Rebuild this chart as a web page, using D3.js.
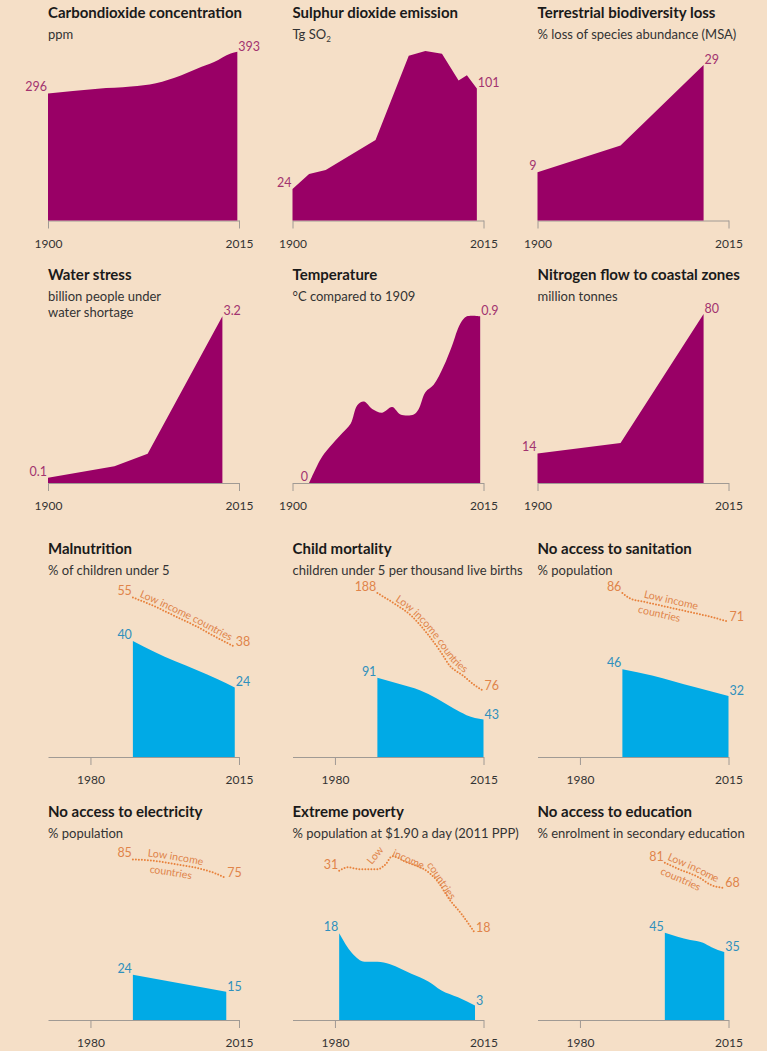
<!DOCTYPE html>
<html>
<head>
<meta charset="utf-8">
<script src="https://cdn.jsdelivr.net/npm/d3@7"></script>
<style>
  body { margin: 0; background: #f5dfc7; }
  svg { display: block; font-family: Lato, 'Open Sans', sans-serif; }
  .title { font-size: 15px; font-weight: bold; fill: #1a1a1a; }
  .sub { font-size: 13px; fill: #333; }
  .tick text { font-size: 12px; fill: #333; font-family: Lato, sans-serif; }
  .val { font-size: 12.5px; }
  .ann { font-size: 10.5px; fill: #e0844a; }
</style>
</head>
<body>
<div id="chart"></div>
<script>
// Planet (purple) series, 1900-2015
const co2Years = [1900, 1930, 1950, 1965, 1980, 1990, 2000, 2010, 2014];
const co2Values = [296, 307, 312, 320, 338, 354, 369, 389, 393];

const so2Years = [1900, 1910, 1920, 1950, 1970, 1980, 1990, 2000, 2005, 2011];
const so2Values = [24, 35.6, 38.6, 61.5, 126, 129.6, 127.5, 107, 111, 101];

const bioYears = [1900, 1950, 2000];
const bioValues = [9, 14, 29];

const waterYears = [1900, 1940, 1960, 2005];
const waterValues = [0.1, 0.32, 0.56, 3.2];

const tempYears = [1910, 1917, 1922, 1930, 1935, 1939, 1943, 1948, 1954, 1960, 1965, 1973, 1976, 1980, 1985, 1991, 1996, 2001, 2005, 2013];
const tempValues = [0, 0.13, 0.19, 0.27, 0.32, 0.42, 0.44, 0.40, 0.38, 0.41, 0.37, 0.37, 0.40, 0.49, 0.53, 0.63, 0.74, 0.86, 0.9, 0.9];

const nitroYears = [1900, 1950, 2000];
const nitroValues = [14, 19, 80];

// People (blue) series, world, and low income countries (orange)
const malYears = [1990, 1995, 2000, 2005, 2010, 2014];
const malValues = [40, 36.3, 33, 30, 26.8, 24];
const malLowYears = [1990, 1995, 2000, 2005, 2010, 2014];
const malLowValues = [55, 52, 48.5, 45, 41, 38];

const childYears = [1990, 1995, 2000, 2004, 2008, 2011, 2015];
const childValues = [91, 84, 76.5, 67, 55.5, 48, 43];
const childLowYears = [1990, 1994, 1998, 2002, 2005, 2007, 2010, 2013, 2015];
const childLowValues = [188, 176, 162, 140, 120, 105, 94, 82, 76];

const sanYears = [1990, 1997, 2007, 2015];
const sanValues = [46, 42.8, 36.7, 32];
const sanLowYears = [1990, 1992, 1995, 2000, 2005, 2010, 2015];
const sanLowValues = [86, 83, 81.5, 79, 76.5, 74, 71];

const elecYears = [1990, 2012];
const elecValues = [24, 15];
const elecLowYears = [1990, 1994, 2000, 2006, 2009, 2012];
const elecLowValues = [85, 84.5, 82.5, 80, 78, 75];

const povYears = [1981, 1984, 1987, 1990, 1993, 1998, 2002, 2005, 2009, 2013];
const povValues = [18, 13.9, 12.1, 12.1, 11.6, 9.6, 8, 6.2, 4.7, 3];
const povLowYears = [1981, 1983, 1986, 1990, 1992, 1993.5, 1997, 2001, 2004, 2007, 2010, 2013];
const povLowValues = [31, 31.7, 31.3, 31.3, 32.4, 34, 32.7, 31.3, 29, 25, 21.8, 18];

const eduYears = [2000, 2006, 2009, 2011, 2014];
const eduValues = [45, 41.2, 39.8, 37.5, 35];
const eduLowYears = [2000, 2003, 2008, 2011, 2014];
const eduLowValues = [81, 78, 73.5, 69.5, 68];

// Labels
const titles = ['Carbondioxide concentration', 'Sulphur dioxide emission', 'Terrestrial biodiversity loss',
  'Water stress', 'Temperature', 'Nitrogen flow to coastal zones',
  'Malnutrition', 'Child mortality', 'No access to sanitation',
  'No access to electricity', 'Extreme poverty', 'No access to education'];
const subtitles = [['ppm'], ['Tg SO|2'], ['% loss of species abundance (MSA)'],
  ['billion people under', 'water shortage'], ['°C compared to 1909'], ['million tonnes'],
  ['% of children under 5'], ['children under 5 per thousand live births'], ['% population'],
  ['% population'], ['% population at $1.90 a day (2011 PPP)'], ['% enrolment in secondary education']];
const startLabels = ['296', '24', '9', '0.1', '0', '14', '40', '91', '46', '24', '18', '45'];
const endLabels = ['393', '101', '29', '3.2', '0.9', '80', '24', '43', '32', '15', '3', '35'];
const lowStartLabels = ['55', '188', '86', '85', '31', '81'];
const lowEndLabels = ['38', '76', '71', '75', '18', '68'];
const longTicks = [1900, 2015];
const shortTicks = [1980, 2015];

const zip = (a, b) => a.map((v, i) => [v, b[i]]);

const purple = '#990066';
const blue = '#00aae6';
const orange = '#e8823c';
const purpleText = '#a2336f';
const blueText = '#2f90bd';
const orangeText = '#e0844a';

const panels = [
  { main: zip(co2Years, co2Values), yMax: 396, curve: d3.curveMonotoneX },
  { main: zip(so2Years, so2Values), yMax: 130, curve: d3.curveLinear },
  { main: zip(bioYears, bioValues), yMax: 31.7, curve: d3.curveLinear },
  { main: zip(waterYears, waterValues), yMax: 3.26, curve: d3.curveLinear },
  { main: zip(tempYears, tempValues), yMax: 0.918, curve: d3.curveCatmullRom.alpha(0.5) },
  { main: zip(nitroYears, nitroValues), yMax: 80.5, curve: d3.curveLinear },
  { main: zip(malYears, malValues), low: zip(malLowYears, malLowValues), yMax: 58.6,
    ann: [{ t: 'Low income countries', o: '5%', dy: -3 }] },
  { main: zip(childYears, childValues), low: zip(childLowYears, childLowValues), yMax: 195,
    ann: [{ t: 'Low income countries', o: '13%', dy: -3 }] },
  { main: zip(sanYears, sanValues), low: zip(sanLowYears, sanLowValues), yMax: 89.2,
    ann: [{ t: 'Low income', o: '20%', dy: -4 }, { t: 'countries', o: '18%', dy: 12 }] },
  { main: zip(elecYears, elecValues), low: zip(elecLowYears, elecLowValues), yMax: 90,
    ann: [{ t: 'Low income', o: '15%', dy: -4 }, { t: 'countries', o: '19%', dy: 12 }] },
  // poverty label is set word by word, each turned to follow the bend of the line
  { main: zip(povYears, povValues), low: zip(povLowYears, povLowValues), yMax: 35.3,
    words: [{ t: 'Low', year: 1988.7, v: 32.2, a: -50 },
      { t: 'income', year: 1993.4, v: 34.1, a: 24 },
      { t: 'countries', year: 2001.6, v: 32.2, a: 56 }] },
  { main: zip(eduYears, eduValues), low: zip(eduLowYears, eduLowValues), yMax: 87.6,
    ann: [{ t: 'Low income', o: '1%', dy: -4 }, { t: 'countries', o: '0%', dy: 12 }] },
];

// Layout
const width = 767;
const height = 1051;
const colX = [48, 292.5, 537.5];
const rowY = [17.5, 280, 554, 817]; // title baselines
const plotW = 191;
const plotH = 170;
const base = 203; // chart baseline, below title

const svg = d3.select('#chart').append('svg')
  .attr('width', width)
  .attr('height', height);

let lowIdx = 0;
panels.forEach((p, i) => {
  const row = Math.floor(i / 3);
  const col = i % 3;
  const isPeople = row >= 2;
  const g = svg.append('g').attr('transform', `translate(${colX[col]}, ${rowY[row]})`);

  // Title and subtitle
  g.append('text').attr('class', 'title').text(titles[i]);
  subtitles[i].forEach((line, k) => {
    const t = g.append('text').attr('class', 'sub').attr('y', 21 + k * 15.6);
    const parts = line.split('|');
    t.append('tspan').text(parts[0]);
    if (parts[1]) {
      t.append('tspan').attr('font-size', '8px').attr('dy', 3).text(parts[1]);
    }
  });

  // Scales
  const x = d3.scaleLinear().domain(isPeople ? [1970, 2015] : [1900, 2015]).range([0, plotW]);
  const y = d3.scaleLinear().domain([0, p.yMax]).range([base, base - plotH]);

  // Axis
  const axis = d3.axisBottom(x)
    .tickValues(isPeople ? shortTicks : longTicks)
    .tickFormat(d3.format('d'))
    .tickSize(8)
    .tickSizeOuter(0)
    .tickPadding(10.5);
  const ax = g.append('g').attr('transform', `translate(0, ${base})`).call(axis);
  ax.selectAll('path, line').attr('stroke', '#a09a94').attr('stroke-width', 1);

  // Area
  const area = d3.area()
    .x((d) => x(d[0]))
    .y0(y(0))
    .y1((d) => y(d[1]))
    .curve(p.curve || d3.curveMonotoneX);
  g.append('path')
    .attr('d', area(p.main))
    .attr('fill', isPeople ? blue : purple);

  const vColor = isPeople ? blueText : purpleText;
  const first = p.main[0];
  const last = p.main[p.main.length - 1];
  g.append('text').attr('class', 'val')
    .attr('x', x(first[0]) - 1).attr('y', y(first[1]) - 2)
    .attr('text-anchor', 'end').attr('fill', vColor)
    .text(startLabels[i]);
  g.append('text').attr('class', 'val')
    .attr('x', x(last[0]) + 1).attr('y', y(last[1]) - 1)
    .attr('fill', vColor)
    .text(endLabels[i]);

  // Low income countries dotted line
  if (p.low) {
    const line = d3.line()
      .x((d) => x(d[0]))
      .y((d) => y(d[1]))
      .curve(d3.curveMonotoneX);
    g.append('path')
      .attr('d', line(p.low))
      .attr('fill', 'none')
      .attr('stroke', orange)
      .attr('stroke-width', 2)
      .attr('stroke-linecap', 'round')
      .attr('stroke-dasharray', '0 3');

    if (p.ann) {
      // smoothed copy of the line, only used to lay the label along it
      g.append('path')
        .attr('id', `low${i}`)
        .attr('d', line.curve(d3.curveBasis)(p.low))
        .attr('fill', 'none');

      p.ann.forEach((a) => {
        g.append('text').attr('class', 'ann').attr('dy', a.dy)
          .append('textPath')
          .attr('href', `#low${i}`)
          .attr('startOffset', a.o)
          .text(a.t);
      });
    }

    if (p.words) {
      p.words.forEach((w) => {
        g.append('text').attr('class', 'ann')
          .attr('transform', `translate(${x(w.year)}, ${y(w.v)}) rotate(${w.a})`)
          .text(w.t);
      });
    }

    const lf = p.low[0];
    const ll = p.low[p.low.length - 1];
    g.append('text').attr('class', 'val')
      .attr('x', x(lf[0]) - 1).attr('y', y(lf[1]) - 2)
      .attr('text-anchor', 'end').attr('fill', orangeText)
      .text(lowStartLabels[lowIdx]);
    g.append('text').attr('class', 'val')
      .attr('x', x(ll[0]) + 1).attr('y', y(ll[1]) - 1)
      .attr('fill', orangeText)
      .text(lowEndLabels[lowIdx]);
    lowIdx += 1;
  }
});
</script>
</body>
</html>
